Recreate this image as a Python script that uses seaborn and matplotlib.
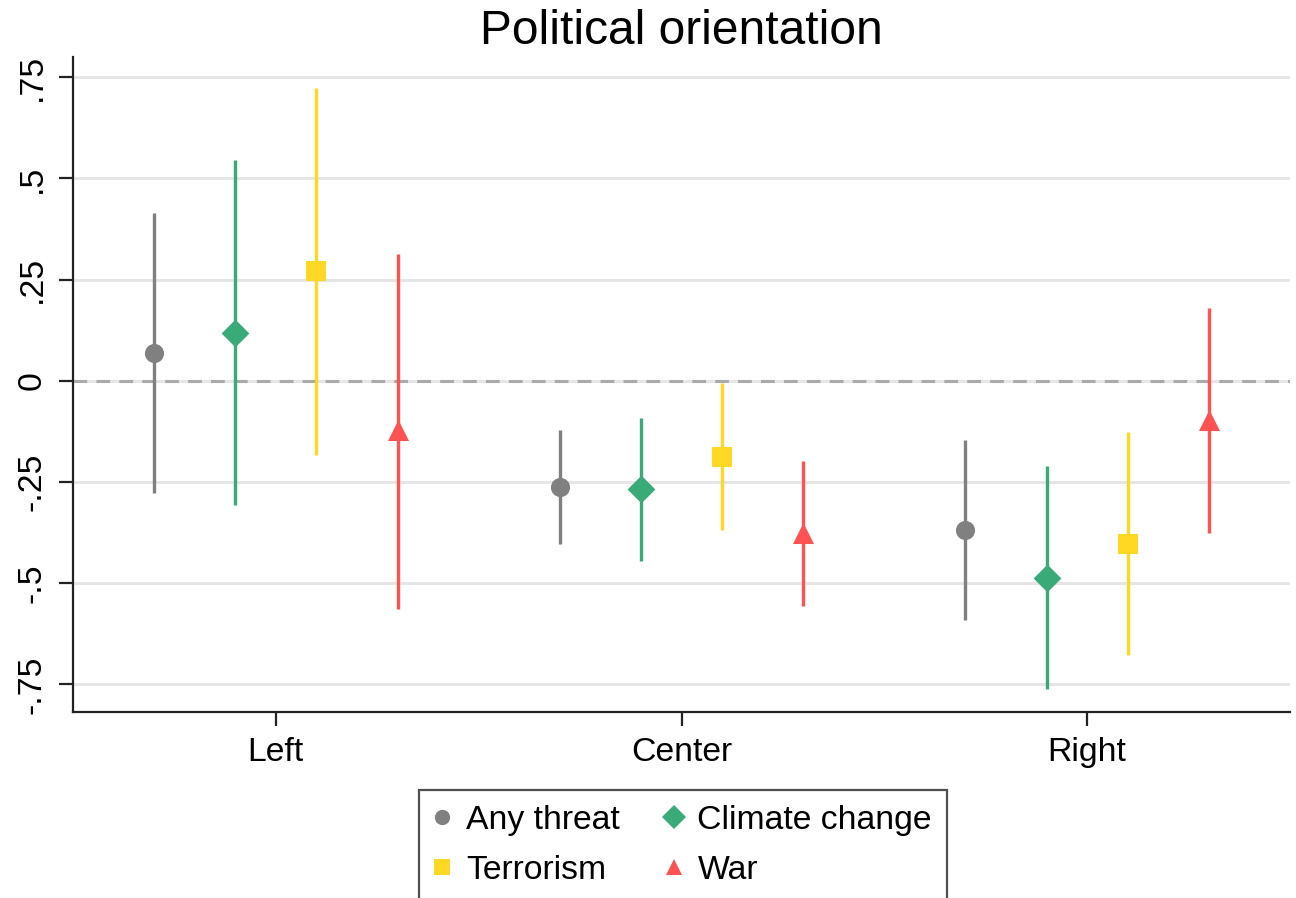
import matplotlib
matplotlib.use("Agg")
import matplotlib.pyplot as plt
import seaborn as sns
import pandas as pd
import numpy as np
from matplotlib.lines import Line2D

categories = ["Left", "Center", "Right"]
series = ["Any threat", "Climate change", "Terrorism", "War"]

any_est = [0.069, -0.262, -0.368]
any_lo = [-0.276, -0.402, -0.590]
any_hi = [0.415, -0.121, -0.146]

clim_est = [0.118, -0.266, -0.487]
clim_lo = [-0.306, -0.444, -0.761]
clim_hi = [0.545, -0.091, -0.210]

terr_est = [0.271, -0.188, -0.403]
terr_lo = [-0.183, -0.368, -0.677]
terr_hi = [0.723, -0.005, -0.126]

war_est = [-0.121, -0.375, -0.096]
war_lo = [-0.563, -0.555, -0.375]
war_hi = [0.313, -0.197, 0.180]

ytick_vals = [0.75, 0.5, 0.25, 0, -0.25, -0.5, -0.75]
ytick_labels = [".75", ".5", ".25", "0", "-.25", "-.5", "-.75"]

colors = {"Any threat": "#808080", "Climate change": "#3aaa78",
          "Terrorism": "#ffd823", "War": "#ff5252"}
markers = {"Any threat": "o", "Climate change": "D", "Terrorism": "s", "War": "^"}
msizes = {"Any threat": 190, "Climate change": 200, "Terrorism": 200, "War": 230}
offsets = {"Any threat": -0.3, "Climate change": -0.1, "Terrorism": 0.1, "War": 0.3}

rows = []
for name, est, lo, hi in [("Any threat", any_est, any_lo, any_hi),
                          ("Climate change", clim_est, clim_lo, clim_hi),
                          ("Terrorism", terr_est, terr_lo, terr_hi),
                          ("War", war_est, war_lo, war_hi)]:
    for i, c in enumerate(categories):
        rows.append({"series": name, "category": c, "est": est[i], "lo": lo[i], "hi": hi[i],
                     "x": i + offsets[name]})
df = pd.DataFrame(rows)

sns.set_style("white")
plt.rcParams['font.family'] = ['Liberation Sans', 'DejaVu Sans']
plt.rcParams['text.color'] = 'black'
plt.rcParams['xtick.color'] = 'black'
plt.rcParams['ytick.color'] = 'black'
plt.rcParams['axes.labelcolor'] = 'black'

fig = plt.figure(figsize=(12.96, 8.98), dpi=100)
ax = fig.add_axes([73/1296, 1-712/898, (1290-73)/1296, (712-57)/898])

for y in ytick_vals:
    ax.axhline(y, color="#e6e6e6", lw=2.2, zorder=0)
ax.axhline(0, color="#aaaaaa", lw=2.2, ls=(0, (4.5, 3)), zorder=1)

for name in series:
    sub = df[df.series == name]
    ax.vlines(sub.x, sub.lo, sub.hi, color=colors[name], lw=2.4, zorder=2)
    sns.scatterplot(data=sub, x="x", y="est", ax=ax, color=colors[name],
                    marker=markers[name], s=msizes[name], linewidth=0, zorder=3,
                    legend=False)

ax.set_xlim(-0.5, 2.5)
ax.set_ylim(-0.818, 0.80)
ax.set_xticks(range(len(categories)))
ax.set_xticklabels(categories, fontsize=24.3)
ax.set_yticks(ytick_vals)
ax.set_yticklabels(ytick_labels, fontsize=24.3, rotation=90, va="center")
ax.set_xlabel("")
ax.set_ylabel("")
ax.tick_params(axis="both", direction="out", length=10, width=1.6, color="#222222",
               pad=8, left=True, bottom=True, labelcolor="black")
for s in ["top", "right"]:
    ax.spines[s].set_visible(False)
for s in ["left", "bottom"]:
    ax.spines[s].set_color("#222222")
    ax.spines[s].set_linewidth(1.6)

ax.set_title("Political orientation", fontsize=34.5, pad=9, color="black")

handles = {n: Line2D([], [], ls="", marker=markers[n], color=colors[n],
                     markersize=12 if n != "Any threat" else 11, markeredgewidth=0)
           for n in series}
order = ["Any threat", "Terrorism", "Climate change", "War"]
leg = fig.legend([handles[n] for n in order], order, ncol=2, loc="upper center",
                 bbox_to_anchor=(683/1296, 1-790/898), borderaxespad=0,
                 fontsize=24.3, frameon=True,
                 fancybox=False, edgecolor="#222222", handletextpad=0.45,
                 columnspacing=1.35, handlelength=0.5, borderpad=0.45, labelspacing=0.55)
leg.get_frame().set_linewidth(1.6)
for t in leg.get_texts():
    t.set_color("black")

fig.savefig("out.png", dpi=100)
